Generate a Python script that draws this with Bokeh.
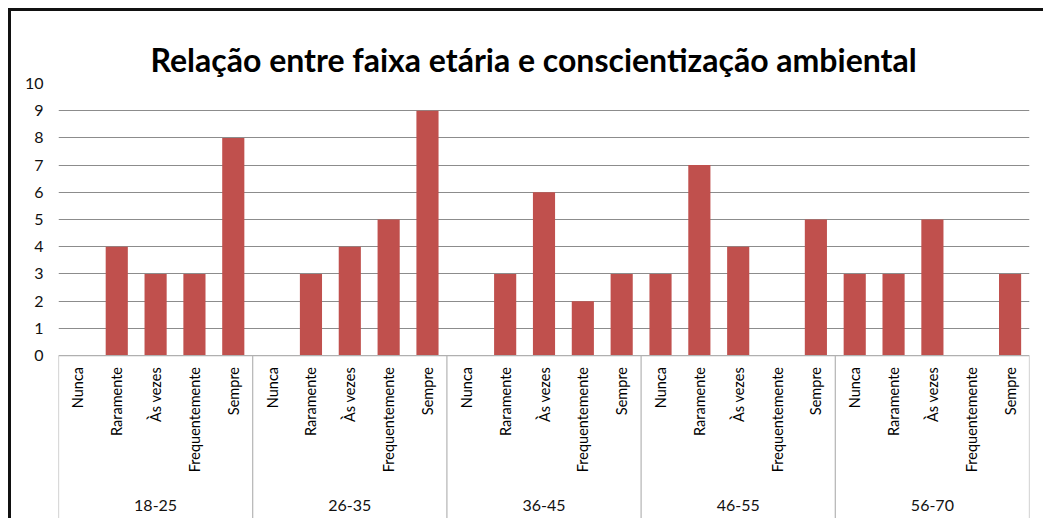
import math
from bokeh.plotting import figure
from bokeh.models import FactorRange, Range1d, ColumnDataSource, FixedTicker
from bokeh.embed import file_html
from bokeh.resources import INLINE
from bokeh.core.properties import value

groups = ["18-25", "26-35", "36-45", "46-55", "56-70"]
answers = ["Nunca", "Raramente", "Às vezes", "Frequentemente", "Sempre"]
v_18_25 = [0, 4, 3, 3, 8]
v_26_35 = [0, 3, 4, 5, 9]
v_36_45 = [0, 3, 6, 2, 3]
v_46_55 = [3, 7, 4, 0, 5]
v_56_70 = [3, 3, 5, 0, 3]
y_ticks = [0, 1, 2, 3, 4, 5, 6, 7, 8, 9, 10]

series = [v_18_25, v_26_35, v_36_45, v_46_55, v_56_70]
factors = [(g, a) for g in groups for a in answers]
tops = [v for vals in series for v in vals]

FONT = "Lato"
BAR = "#C0504D"
Y_BOTTOM = -6.10

p = figure(
    width=1035, height=510,
    x_range=FactorRange(*factors, range_padding=0, group_padding=0,
                        factor_padding=0, subgroup_padding=0),
    y_range=Range1d(Y_BOTTOM, 10),
    output_backend="svg", toolbar_location=None,
    min_border_left=47, min_border_right=17, min_border_top=72, min_border_bottom=0,
)
p.styles = {"margin-left": "8px", "margin-top": "8px",
            "border-left": "3px solid #111", "border-top": "3px solid #111"}

p.title.text = "Relação entre faixa etária e conscientização ambiental"
p.title.align = "left"
p.title.offset = 92
p.title.text_font = FONT
p.title.text_font_style = "bold"
p.title.text_font_size = "32px"
p.title.text_color = "#000000"

p.outline_line_color = None
p.background_fill_color = "white"
p.border_fill_color = "white"

src = ColumnDataSource(dict(x=factors, top=tops))
p.vbar(x="x", top="top", width=0.57, source=src, fill_color=BAR, line_color=None)

# category axis drawn in data space below zero
p.segment(x0=[0], y0=[0], x1=[len(factors)], y1=[0], line_color="#b0b0b0", line_width=1.2)
seps = [i * len(answers) for i in range(len(groups) + 1)]
p.segment(x0=seps, y0=[0] * len(seps), x1=seps, y1=[Y_BOTTOM] * len(seps),
          line_color="#b4b4b4", line_width=1.2)

lab = ColumnDataSource(dict(x=factors, text=[a for g in groups for a in answers],
                            y=[-0.42] * len(factors)))
p.text(x="x", y="y", text="text", source=lab, angle=math.pi / 2,
       text_align="right", text_baseline="middle",
       text_font=value(FONT), text_font_size="14.5px", text_color="#000000")

glab = ColumnDataSource(dict(x=groups, text=groups, y=[-5.51] * len(groups)))
p.text(x="x", y="y", text="text", source=glab,
       text_align="center", text_baseline="middle",
       text_font=value(FONT), text_font_size="16px", text_color="#111111")

p.xaxis.visible = False
p.xgrid.visible = False
p.yaxis.ticker = FixedTicker(ticks=y_ticks)
p.yaxis.axis_line_color = None
p.yaxis.major_tick_line_color = None
p.yaxis.minor_tick_line_color = None
p.yaxis.major_tick_out = 0
p.yaxis.major_label_standoff = 15
p.yaxis.major_label_text_font = FONT
p.yaxis.major_label_text_font_size = "16px"
p.yaxis.major_label_text_color = "#111111"
p.ygrid.ticker = FixedTicker(ticks=y_ticks[1:])
p.ygrid.grid_line_color = "#8c8c8c"
p.ygrid.grid_line_width = 1

open("out.html", "w").write(file_html(p, INLINE))
